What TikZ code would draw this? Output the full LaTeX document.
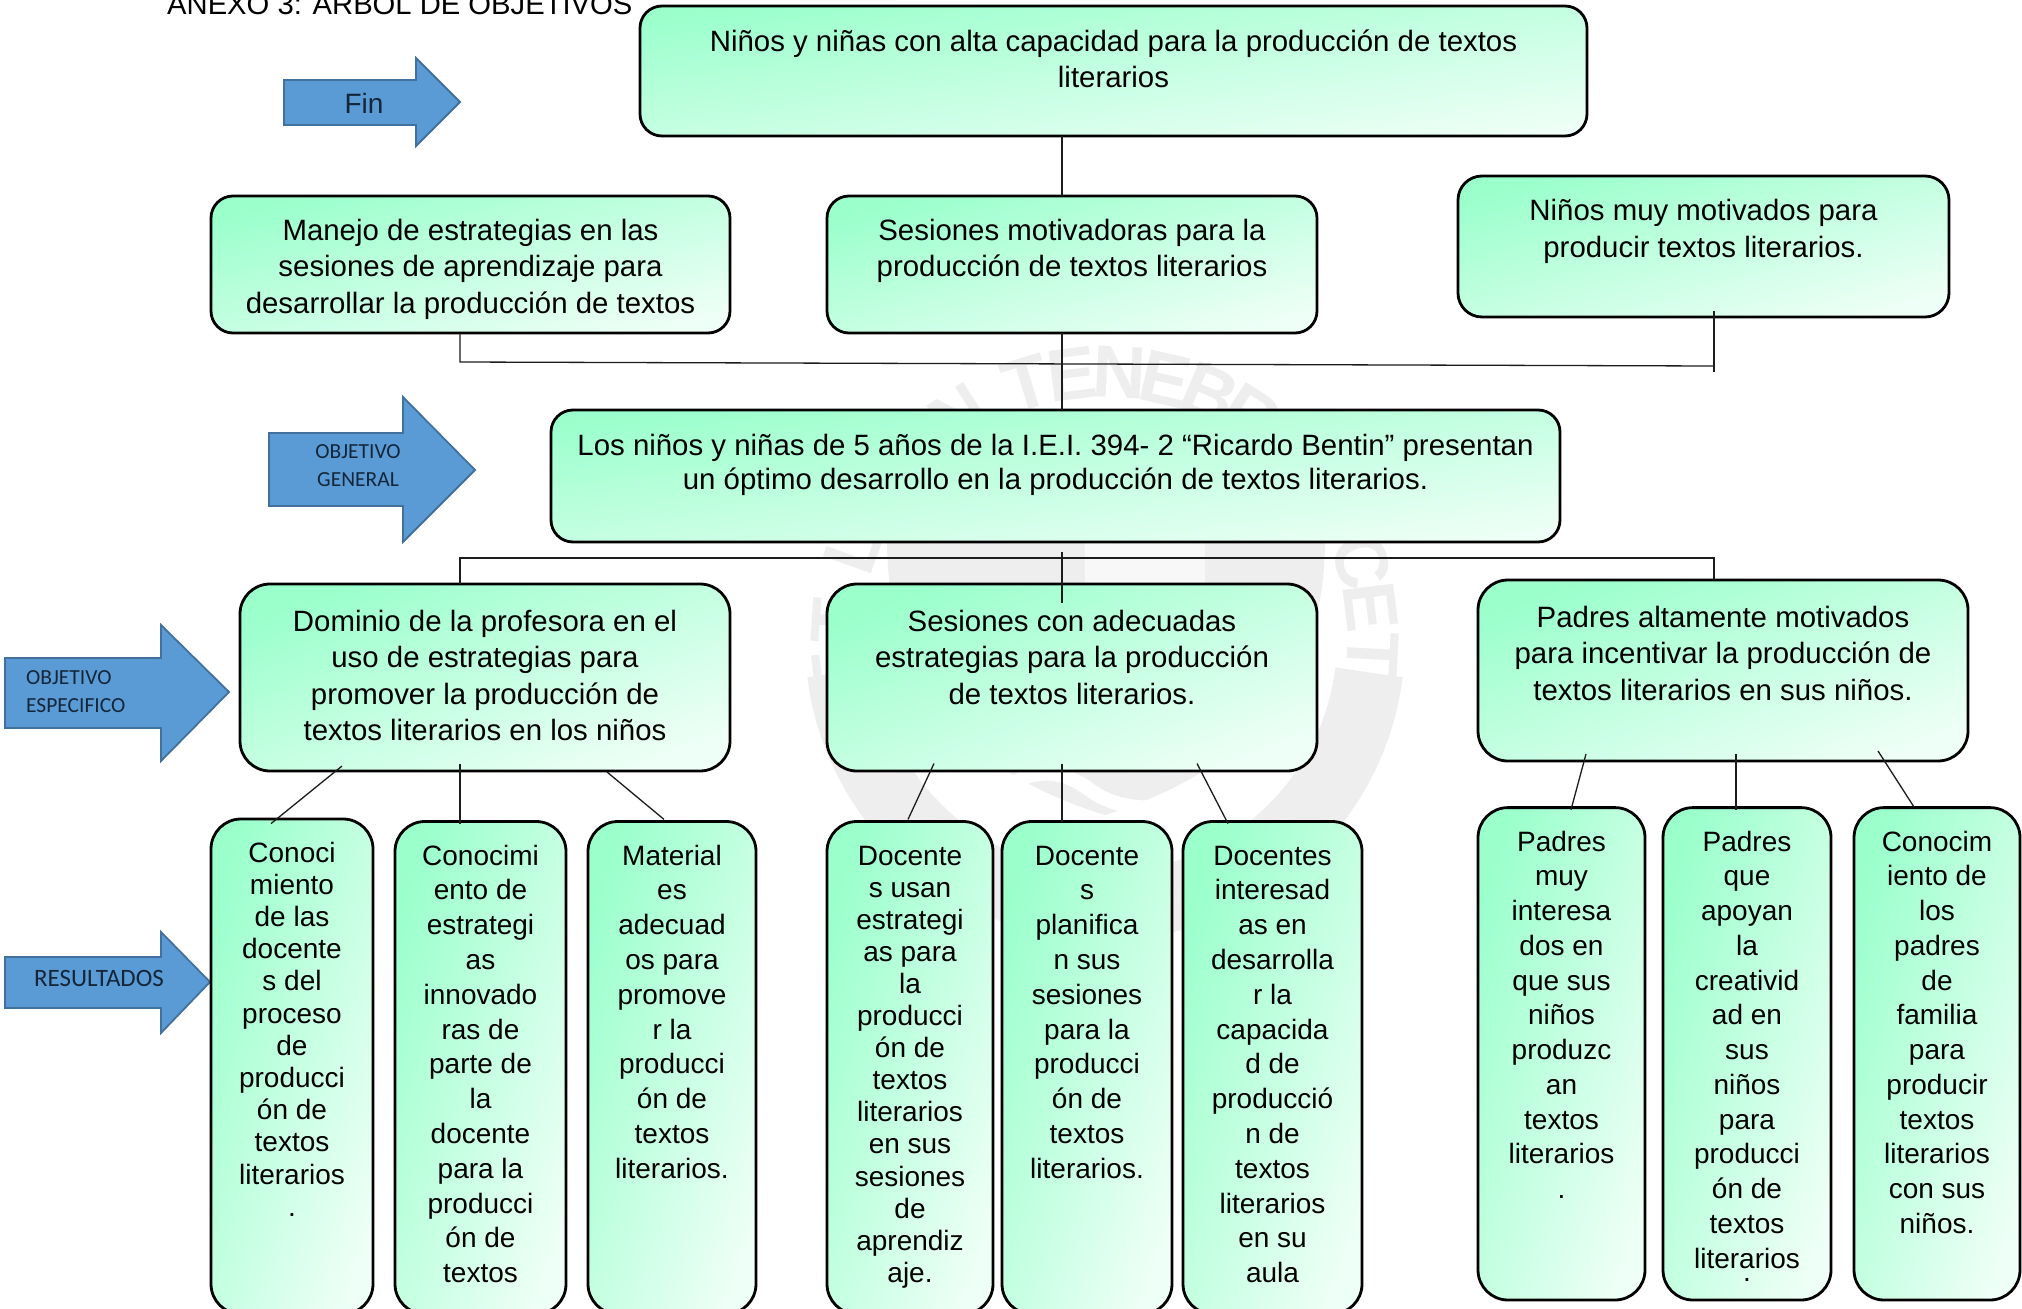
\documentclass[tikz,border=0pt]{standalone}
\usepackage{fontspec}
\setmainfont{Liberation Sans}
\newfontfamily\calib{Carlito}
\definecolor{gA}{HTML}{9BFFCC}
\definecolor{gB}{HTML}{EDFFF6}
\definecolor{arrF}{HTML}{5B9BD5}
\definecolor{arrD}{HTML}{41719C}
\definecolor{wmk}{HTML}{EEEEEE}
\definecolor{lnk}{HTML}{1C1C1C}
\definecolor{lblc}{HTML}{14263A}
\tikzset{
  gbox/.style={draw=black,line width=2.8pt,top color=gA,bottom color=gB,inner sep=0pt,outer sep=0pt,text=black},
  conn/.style={draw=lnk,line width=1.3pt},
  bluearrow/.style={fill=arrF,draw=arrD,line width=1.8pt,line join=miter},
  smalllbl/.style={text=lblc,inner sep=0pt,font=\calib\fontsize{21.5}{28}\selectfont},
  wmletter/.style={text=wmk,inner sep=0pt,font=\bfseries\fontsize{74}{74}\selectfont},
}
\newcommand{\fsz}{29.4}
% radius, name, x1,y1,x2,y2, first-baseline offset, line skip, text
\newcommand{\bx}[9]{%
  \pgfmathsetmacro{\bw}{#5-#3}\pgfmathsetmacro{\bh}{#6-#4}%
  \pgfmathsetmacro{\bcx}{(#5+#3)/2}\pgfmathsetmacro{\bcy}{(#6+#4)/2}%
  \pgfmathsetmacro{\bang}{atan(\bh/\bw)}%
  \node[gbox,shading angle=\bang,rounded corners=#1pt,minimum width=\bw pt,minimum height=\bh pt] (#2) at (\bcx,\bcy)
   {\parbox[c][\bh pt][t]{\bw pt}{\vspace*{\dimexpr#7pt-22pt\relax}\fontsize{\fsz}{#8}\selectfont\centering\rule{0pt}{22pt}#9\par}};%
}
\begin{document}
\begin{tikzpicture}[x=1pt,y=-1pt]
\path[clip] (0,0) rectangle (2022,1309);
\fill[white] (0,0) rectangle (2022,1309);
% watermark
\foreach \ch/\a [count=\i] in {E/187,T/176,L/160,N/123,T/107,E/97,N/87,E/77,B/67,R/57,C/17,E/7,T/-3}{
  \node[wmletter,rotate=\a-90] (wm\i) at ({1105+268*cos(\a)},{640-268*sin(\a)}) {\ch};
}
\draw[wmk,line width=68pt] plot[domain=-7:-173,samples=70] ({1105+266*cos(\x)},{640-266*sin(\x)});
\fill[wmk] (887,540) -- (1325,540) .. controls (1325,680) and (1250,770) .. (1105,815) .. controls (960,770) and (887,680) .. (887,540) -- cycle;
\fill[white!60!wmk] (1085,540) rectangle (1205,590);
\draw[white,line width=14pt] (960,830) .. controls (1010,770) and (1050,760) .. (1090,790) .. controls (1130,820) and (1200,810) .. (1240,770);
% title
\node[anchor=base west,inner sep=0pt,font=\fontsize{29.2}{30}\selectfont] (title) at (167,14) {ANEXO 3: ARBOL DE OBJETIVOS};
% arrows
\draw[bluearrow] (284,80) -- (416,80) -- (416,58) -- (460,102) -- (416,146) -- (416,125) -- (284,125) -- cycle;
\node[anchor=base,inner sep=0pt,font=\fontsize{28}{30}\selectfont,text=lblc] (fin) at (364,113) {Fin};
\draw[bluearrow] (269,433) -- (403,433) -- (403,397) -- (475,470) -- (403,542) -- (403,506) -- (269,506) -- cycle;
\node[smalllbl,align=center] (ogen) at (358,466) {OBJETIVO\\GENERAL};
\draw[bluearrow] (5,658) -- (161,658) -- (161,625) -- (229,692) -- (161,761) -- (161,728) -- (5,728) -- cycle;
\node[smalllbl,align=left,anchor=west] (oesp) at (26,692) {OBJETIVO\\ESPECIFICO};
\draw[bluearrow] (5,957) -- (161,957) -- (161,932) -- (210,982) -- (161,1033) -- (161,1008) -- (5,1008) -- cycle;
\node[smalllbl,font=\calib\fontsize{25}{28}\selectfont] (ores) at (99,978) {RESULTADOS};
% boxes
\bx{22}{ntop}{640}{6}{1587}{136}{45}{36}{Niños y niñas con alta capacidad para la producción de textos\\literarios}
\bx{22}{nman}{211}{196}{730}{333}{44}{36.5}{Manejo de estrategias en las\\sesiones de aprendizaje para\\desarrollar la producción de textos}
\bx{22}{nses}{827}{196}{1317}{333}{44}{36.5}{Sesiones motivadoras para la\\producción de textos literarios}
\bx{24}{nmot}{1458}{176}{1949}{317}{44}{37}{Niños muy motivados para\\producir textos literarios.}
\bx{22}{nlos}{551}{410}{1560}{542}{45}{34}{Los niños y niñas de 5 años de la I.E.I. 394- 2 “Ricardo Bentin” presentan\\un óptimo desarrollo en la producción de textos literarios.}
\bx{30}{ndom}{240}{584}{730}{771}{47}{36.5}{Dominio de la profesora en el\\uso de estrategias para\\promover la producción de\\textos literarios en los niños}
\bx{30}{ncon}{827}{584}{1317}{771}{47}{36.5}{Sesiones con adecuadas\\estrategias para la producción\\de textos literarios.}
\bx{30}{npad}{1478}{580}{1968}{761}{47}{36.5}{Padres altamente motivados\\para incentivar la producción de\\textos literarios en sus niños.}
\renewcommand{\fsz}{28}
\bx{30}{ba}{211}{819}{373}{1314}{43}{32.2}{Conoci\\miento\\de las\\docente\\s del\\proceso\\de\\producci\\ón de\\textos\\literarios\\.}
\bx{30}{bb}{395}{821.5}{566}{1314}{43.5}{34.8}{Conocimi\\ento de\\estrategi\\as\\innovado\\ras de\\parte de\\la\\docente\\para la\\producci\\ón de\\textos}
\bx{30}{bc}{588}{821.5}{756}{1314}{43.5}{34.8}{Material\\es\\adecuad\\os para\\promove\\r la\\producci\\ón de\\textos\\literarios.}
\bx{30}{bd}{827}{821.5}{993}{1314}{43.5}{32.1}{Docente\\s usan\\estrategi\\as para\\la\\producci\\ón de\\textos\\literarios\\en sus\\sesiones\\de\\aprendiz\\aje.}
\bx{30}{be}{1002}{821.5}{1172}{1314}{43.5}{34.8}{Docente\\s\\planifica\\n sus\\sesiones\\para la\\producci\\ón de\\textos\\literarios.}
\bx{30}{bf}{1183}{821.5}{1362}{1314}{43.5}{34.8}{Docentes\\interesad\\as en\\desarrolla\\r la\\capacida\\d de\\producció\\n de\\textos\\literarios\\en su\\aula}
\bx{30}{bg}{1478}{807.6}{1645}{1300}{43.4}{34.75}{Padres\\muy\\interesa\\dos en\\que sus\\niños\\produzc\\an\\textos\\literarios\\.}
\bx{30}{bh}{1663}{807.6}{1831}{1300}{43.4}{34.75}{Padres\\que\\apoyan\\la\\creativid\\ad en\\sus\\niños\\para\\producci\\ón de\\textos\\literarios\\[-20.8pt].}
\bx{30}{bi}{1854}{807.6}{2020}{1300}{43.4}{34.75}{Conocim\\iento de\\los\\padres\\de\\familia\\para\\producir\\textos\\literarios\\con sus\\niños.}
% connector guides
\coordinate (tA) at (1062,0);
\coordinate (hL) at (460,362);
\coordinate (hR) at (1714,366);
\coordinate (hRt) at (1714,311);
\coordinate (hRb) at (1714,372);
\coordinate (lL) at (460,558);
\coordinate (lR) at (1714,558);
\coordinate (cT) at (1062,552);
\coordinate (cB) at (1062,603);
% top trunk
\draw[conn] (ntop.south -| tA) -- (nses.north -| tA);
\draw[conn] (nses.south -| tA) -- (nlos.north -| tA);
\draw[conn] (nman.south -| hL) -- (hL) -- (hR);
\draw[conn] (hRt) -- (hRb);
\draw[conn] (ndom.north -| lL) -- (lL) -- (lR) -- (npad.north -| lR);
\draw[conn] (cT) -- (cB);
% leaves
\coordinate (a1) at (342,766); \coordinate (a2) at (271,823.6);
\coordinate (b1) at (460,763.5); \coordinate (b2) at (460,823.6);
\coordinate (c1) at (607,772); \coordinate (c2) at (664,819.4);
\coordinate (d1) at (934,763.5); \coordinate (d2) at (908,819.4);
\coordinate (e1) at (1062,763.5); \coordinate (e2) at (1062,821.5);
\coordinate (f1) at (1197,763.5); \coordinate (f2) at (1228,823.6);
\coordinate (g1) at (1586,754); \coordinate (g2) at (1571,809.7);
\coordinate (h1) at (1736,754); \coordinate (h2) at (1736,809.7);
\coordinate (i1) at (1878,751); \coordinate (i2) at (1914,807);
\foreach \p/\q in {a1/a2,b1/b2,c1/c2,d1/d2,e1/e2,f1/f2,g1/g2,h1/h2,i1/i2}{
  \draw[conn] (\p) -- (\q);
}
\end{tikzpicture}
\end{document}
